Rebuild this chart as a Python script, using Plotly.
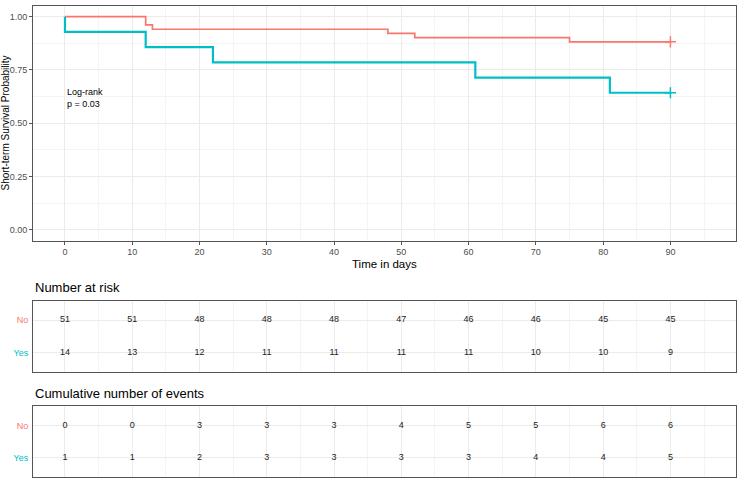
import plotly.graph_objects as go

# ---- data ----
groups = ["No", "Yes"]
colors = {"No": "#F8766D", "Yes": "#00BFC4"}

no_time = [0, 12, 13, 48, 52, 75, 90]
no_surv = [1.0, 0.961, 0.941, 0.922, 0.902, 0.882, 0.882]
yes_time = [0, 0, 12, 22, 61, 81, 90]
yes_surv = [1.0, 0.929, 0.857, 0.786, 0.714, 0.643, 0.643]
censor_time = {"No": [90], "Yes": [90]}
censor_surv = {"No": [0.882], "Yes": [0.643]}

table_times = [0, 10, 20, 30, 40, 50, 60, 70, 80, 90]
at_risk = {"No": [51, 51, 48, 48, 48, 47, 46, 46, 45, 45],
           "Yes": [14, 13, 12, 11, 11, 11, 11, 10, 10, 9]}
cum_events = {"No": [0, 0, 3, 3, 3, 4, 5, 5, 6, 6],
              "Yes": [1, 1, 2, 3, 3, 3, 3, 4, 4, 5]}

x_ticks = [0, 10, 20, 30, 40, 50, 60, 70, 80, 90]
y_ticks = [0.0, 0.25, 0.5, 0.75, 1.0]
y_ticklabels = ["0.00", "0.25", "0.50", "0.75", "1.00"]

# ---- layout geometry ----
W, H = 744, 486
def py(pix):
    return 1 - pix / H

xdom = [33 / W, 736 / W]
main_dom = [py(240.5), py(6)]
t1_dom = [py(372), py(300.7)]
t2_dom = [py(477), py(406)]
xrange = [-4.75, 99.75]
FONT = "Liberation Sans, Arial, sans-serif"

fig = go.Figure()

curves = {"No": (no_time, no_surv), "Yes": (yes_time, yes_surv)}
widths = {"No": 1.7, "Yes": 2.2}
for g in groups:
    t, s = curves[g]
    fig.add_trace(go.Scatter(x=t, y=s, mode="lines", line=dict(color=colors[g], width=widths[g], shape="hv"),
                             showlegend=False, xaxis="x", yaxis="y"))
    fig.add_trace(go.Scatter(x=censor_time[g], y=censor_surv[g], mode="markers",
                             marker=dict(symbol="cross-thin", size=8, line=dict(color=colors[g], width=1.5)),
                             showlegend=False, xaxis="x", yaxis="y"))

row_y = {"No": 2, "Yes": 1}
for g in groups:
    fig.add_trace(go.Scatter(x=table_times, y=[row_y[g]] * len(table_times), mode="text",
                             text=[str(v) for v in at_risk[g]],
                             textfont=dict(family=FONT, size=9, color="#222222"),
                             showlegend=False, xaxis="x2", yaxis="y2"))
    fig.add_trace(go.Scatter(x=table_times, y=[row_y[g]] * len(table_times), mode="text",
                             text=[str(v) for v in cum_events[g]],
                             textfont=dict(family=FONT, size=9, color="#222222"),
                             showlegend=False, xaxis="x3", yaxis="y3"))

axis_common = dict(showline=True, linecolor="#555555", linewidth=1, mirror=True,
                   gridcolor="#EBEBEB", gridwidth=1, zeroline=False,
                   tickfont=dict(family=FONT, size=9, color="#4D4D4D"))
minor_x = dict(dtick=5, showgrid=True, gridcolor="#F4F4F4", gridwidth=0.6, ticks="")

fig.update_layout(
    width=W, height=H, margin=dict(l=0, r=0, t=0, b=0),
    paper_bgcolor="white", plot_bgcolor="white",
    font=dict(family=FONT),
    xaxis=dict(domain=xdom, range=xrange, tickvals=x_ticks, ticks="outside", ticklen=3,
               tickcolor="#555555", anchor="y", minor=minor_x, **axis_common),
    yaxis=dict(domain=main_dom, range=[-0.05, 1.05], tickvals=y_ticks, ticktext=y_ticklabels,
               ticks="outside", ticklen=3, tickcolor="#555555", anchor="x",
               minor=dict(dtick=0.125, tick0=0.125, showgrid=True, gridcolor="#F4F4F4", gridwidth=0.6, ticks=""),
               **axis_common),
    xaxis2=dict(domain=xdom, range=xrange, tickvals=x_ticks, showticklabels=False, ticks="",
                anchor="y2", minor=minor_x, **axis_common),
    yaxis2=dict(domain=t1_dom, range=[0.4, 2.6], tickvals=[2, 1],
                ticktext=["<span style='color:%s'>No</span>" % colors["No"],
                          "<span style='color:%s'>Yes</span>" % colors["Yes"]],
                ticks="outside", ticklen=2, tickcolor="rgba(0,0,0,0)", anchor="x2", **axis_common),
    xaxis3=dict(domain=xdom, range=xrange, tickvals=x_ticks, showticklabels=False, ticks="",
                anchor="y3", minor=minor_x, **axis_common),
    yaxis3=dict(domain=t2_dom, range=[0.4, 2.6], tickvals=[2, 1],
                ticktext=["<span style='color:%s'>No</span>" % colors["No"],
                          "<span style='color:%s'>Yes</span>" % colors["Yes"]],
                ticks="outside", ticklen=2, tickcolor="rgba(0,0,0,0)", anchor="x3", **axis_common),
)

fig.add_annotation(x=0, y=0.62, xref="x", yref="y", text="Log-rank<br>p = 0.03", showarrow=False,
                   xanchor="left", yanchor="middle", align="left",
                   font=dict(family=FONT, size=9, color="black"))
fig.add_annotation(x=(xdom[0] + xdom[1]) / 2, y=py(264), xref="paper", yref="paper", text="Time in days",
                   showarrow=False, xanchor="center", yanchor="middle",
                   font=dict(family=FONT, size=11.5, color="black"))
fig.add_annotation(x=0, y=py(123), xref="paper", yref="paper", text="Short-term Survival Probability",
                   showarrow=False, xanchor="left", yanchor="middle", textangle=-90, xshift=-3,
                   font=dict(family=FONT, size=10, color="black"))
fig.add_annotation(x=xdom[0], y=py(287), xref="paper", yref="paper", text="Number at risk",
                   showarrow=False, xanchor="left", yanchor="middle",
                   font=dict(family=FONT, size=13, color="black"))
fig.add_annotation(x=xdom[0], y=py(393), xref="paper", yref="paper", text="Cumulative number of events",
                   showarrow=False, xanchor="left", yanchor="middle",
                   font=dict(family=FONT, size=13, color="black"))

fig.write_html("out.html")
